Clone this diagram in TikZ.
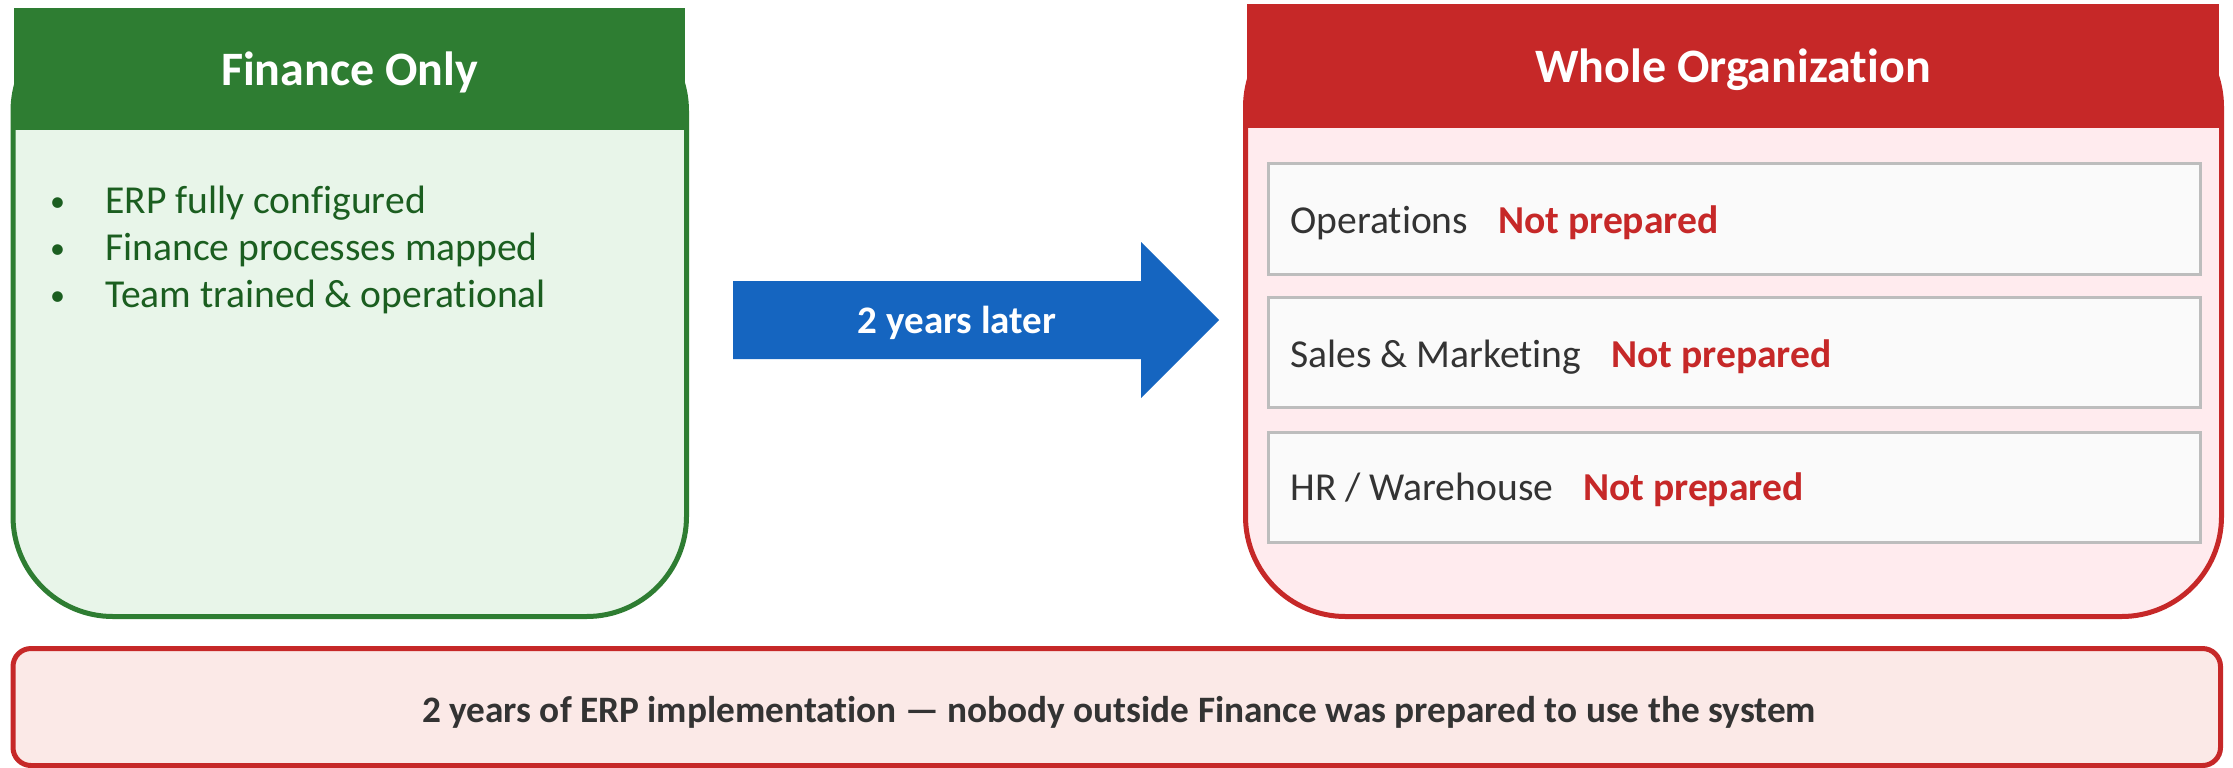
\documentclass[tikz,border=0pt]{standalone}
\usepackage{fontspec}
\setmainfont{Carlito}[Ligatures=NoCommon]
\definecolor{gHead}{HTML}{2E7D32}
\definecolor{gBody}{HTML}{E8F5E9}
\definecolor{gText}{HTML}{1B5E20}
\definecolor{rHead}{HTML}{C62828}
\definecolor{rBody}{HTML}{FFEBEE}
\definecolor{bBody}{HTML}{FBE9E7}
\definecolor{aBlue}{HTML}{1565C0}
\definecolor{dText}{HTML}{333333}
\definecolor{subFill}{HTML}{FAFAFA}
\definecolor{subLine}{HTML}{BDBDBD}
\begin{document}
\begin{tikzpicture}[x=0.5pt,y=-0.5pt,
  hdrtext/.style={inner sep=0pt, anchor=base, text=white, font=\fontsize{24}{28.8}\selectfont\bfseries},
  bullettext/.style={inner sep=0pt, anchor=base west, text=gText, font=\fontsize{19.8}{23.8}\selectfont},
  bulletdot/.style={inner sep=0pt, anchor=base, text=gText, font=\fontsize{15}{18}\selectfont},
  subbox/.style={draw=subLine, fill=subFill, line width=1.5pt},
  sublabel/.style={inner sep=0pt, anchor=base west, text=dText, font=\fontsize{19.8}{23.8}\selectfont},
  notprep/.style={inner sep=0pt, anchor=base west, text=rHead, font=\fontsize{19.8}{23.8}\selectfont\bfseries},
  arrowtext/.style={inner sep=0pt, anchor=base, text=white, font=\fontsize{19.5}{23.4}\selectfont\bfseries},
  bottomtext/.style={inner sep=0pt, anchor=base, text=dText, font=\fontsize{18.65}{22.4}\selectfont\bfseries}
]
\useasboundingbox (0,0) rectangle (2233,767);

% ---- left panel
\draw[draw=gHead, fill=gBody, line width=2.5pt, rounded corners=50pt] (13,11) rectangle (686.5,616.5);
\fill[gHead] (13.5,8) rectangle (685,130);
\node[hdrtext] (lhead) at (349.5,85) {Finance Only};
\node[bulletdot] (b1) at (57.5,211) {•};
\node[bullettext] (t1) at (105,213) {ERP fully configured};
\node[bulletdot] (b2) at (57.5,258) {•};
\node[bullettext] (t2) at (105,260) {Finance processes mapped};
\node[bulletdot] (b3) at (57.5,305) {•};
\node[bullettext] (t3) at (105,307) {Team trained \& operational};

% ---- arrow
\fill[aBlue] (733,281) -- (1141,281) -- (1141,242) -- (1219,320) -- (1141,398) -- (1141,359) -- (733,359) -- cycle;
\node[arrowtext] (later) at (957,333) {2 years later};

% ---- right panel
\draw[draw=rHead, fill=rBody, line width=2.5pt, rounded corners=50pt] (1245.5,7) rectangle (2221.5,616.5);
\fill[rHead] (1247,4) rectangle (2219,128);
\node[hdrtext] (rhead) at (1733,82) {Whole Organization};

\draw[subbox] (1268.5,163) rectangle (2200,274);
\node[sublabel] (s1) at (1290,233) {Operations};
\node[notprep, anchor=base west] (n1) at ([xshift=14.5pt]s1.base east) {Not prepared};

\draw[subbox] (1268.5,297) rectangle (2200,407);
\node[sublabel] (s2) at (1290,367) {Sales \& Marketing};
\node[notprep, anchor=base west] (n2) at ([xshift=14.5pt]s2.base east) {Not prepared};

\draw[subbox] (1268.5,432) rectangle (2200,542);
\node[sublabel] (s3) at (1290,500) {HR / Warehouse};
\node[notprep, anchor=base west] (n3) at ([xshift=14.5pt]s3.base east) {Not prepared};

% ---- bottom banner
\draw[draw=rHead, fill=bBody, line width=2.5pt, rounded corners=9pt] (13,648.5) rectangle (2220.5,765.5);
\node[bottomtext] (summary) at (1119,722) {2 years of ERP implementation — nobody outside Finance was prepared to use the system};
\end{tikzpicture}
\end{document}
